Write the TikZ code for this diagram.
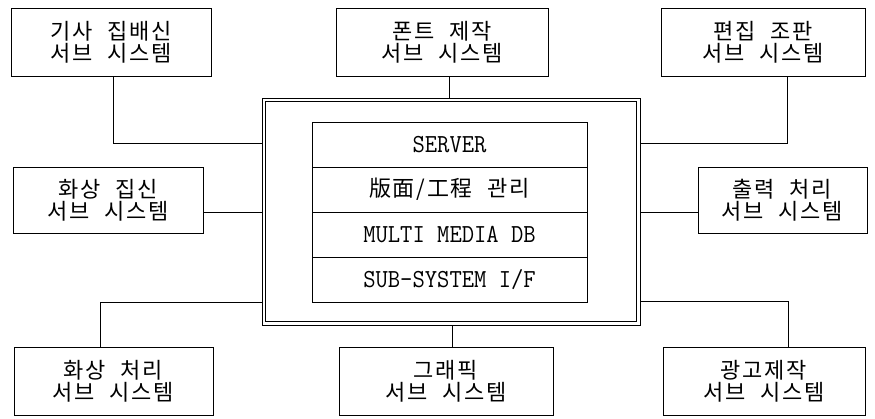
\documentclass[tikz,border=0pt]{standalone}
\usepackage{fontspec}
\usetikzlibrary{calc}
\newfontfamily\kr[LetterSpace=8,WordSpace=2.2]{Noto Sans CJK KR}
\newfontfamily\mono[FakeStretch=0.92]{Latin Modern Mono}
\begin{document}
\begin{tikzpicture}[x=1pt,y=-1pt,line width=0.9pt,
  sub/.style={draw,rectangle,inner sep=0pt,align=center,
    font=\kr\fontsize{22}{22}\selectfont,minimum height=68pt},
  row/.style={draw,rectangle,inner sep=0pt,minimum width=275pt,minimum height=45pt},
  latin/.style={font=\mono\fontsize{26}{26}\selectfont},
  hangul/.style={font=\kr\fontsize{22}{22}\selectfont},
  wire/.style={draw,line width=0.9pt}]
\useasboundingbox (0,0) rectangle (875,419);
% subsystem boxes
\node[sub,minimum width=200pt] (tl) at (111,42) {기사 집배신\\서브 시스템};
\node[sub,minimum width=212pt] (tc) at (442,42) {폰트 제작\\서브 시스템};
\node[sub,minimum width=204pt] (tr) at (763,42) {편집 조판\\서브 시스템};
\node[sub,minimum width=190pt,minimum height=66pt] (ml) at (108,200) {화상 집신\\서브 시스템};
\node[sub,minimum width=169pt,minimum height=66pt] (mr) at (782.5,200) {출력 처리\\서브 시스템};
\node[sub,minimum width=199pt] (bl) at (113.5,381) {화상 처리\\서브 시스템};
\node[sub,minimum width=214pt] (bc) at (446,381) {그래픽\\서브 시스템};
\node[sub,minimum width=202pt] (br) at (764,381) {광고제작\\서브 시스템};
% server frame
\node[draw,rectangle,inner sep=0pt,line width=0.8pt,minimum width=378pt,minimum height=227pt] (frame) at (451,211.5) {};
\draw[line width=0.8pt] ($(frame.north west)+(4,4)$) rectangle ($(frame.south east)+(-4,-4)$);
% stack
\node[row,latin] (r1) at (449.5,144.5) {SERVER};
\node[row,hangul] (r2) at (449.5,189.5) {版面/工程 관리};
\node[row,latin] (r3) at (449.5,234.5) {MULTI MEDIA DB};
\node[row,latin] (r4) at (449.5,279.5) {SUB-SYSTEM I/F};
% connectors
\coordinate (c1) at (113,143);
\coordinate (c2) at (449,0);
\coordinate (c3) at (787,143);
\coordinate (c4) at (0,212);
\coordinate (c6) at (100,302);
\coordinate (c7) at (452,0);
\coordinate (c8) at (788,301);
\draw[wire] (tl.south -| c1) -- (c1) -- (c1 -| frame.west);
\draw[wire] (tc.south -| c2) -- (c2 |- frame.north);
\draw[wire] (tr.south -| c3) -- (c3) -- (c3 -| frame.east);
\draw[wire] (ml.east |- c4) -- (frame.west |- c4);
\draw[wire] (frame.east |- c4) -- (mr.west |- c4);
\draw[wire] (frame.west |- c6) -- (c6) -- (c6 |- bl.north);
\draw[wire] (frame.south -| c7) -- (bc.north -| c7);
\draw[wire] (frame.east |- c8) -- (c8) -- (c8 |- br.north);
\end{tikzpicture}
\end{document}
